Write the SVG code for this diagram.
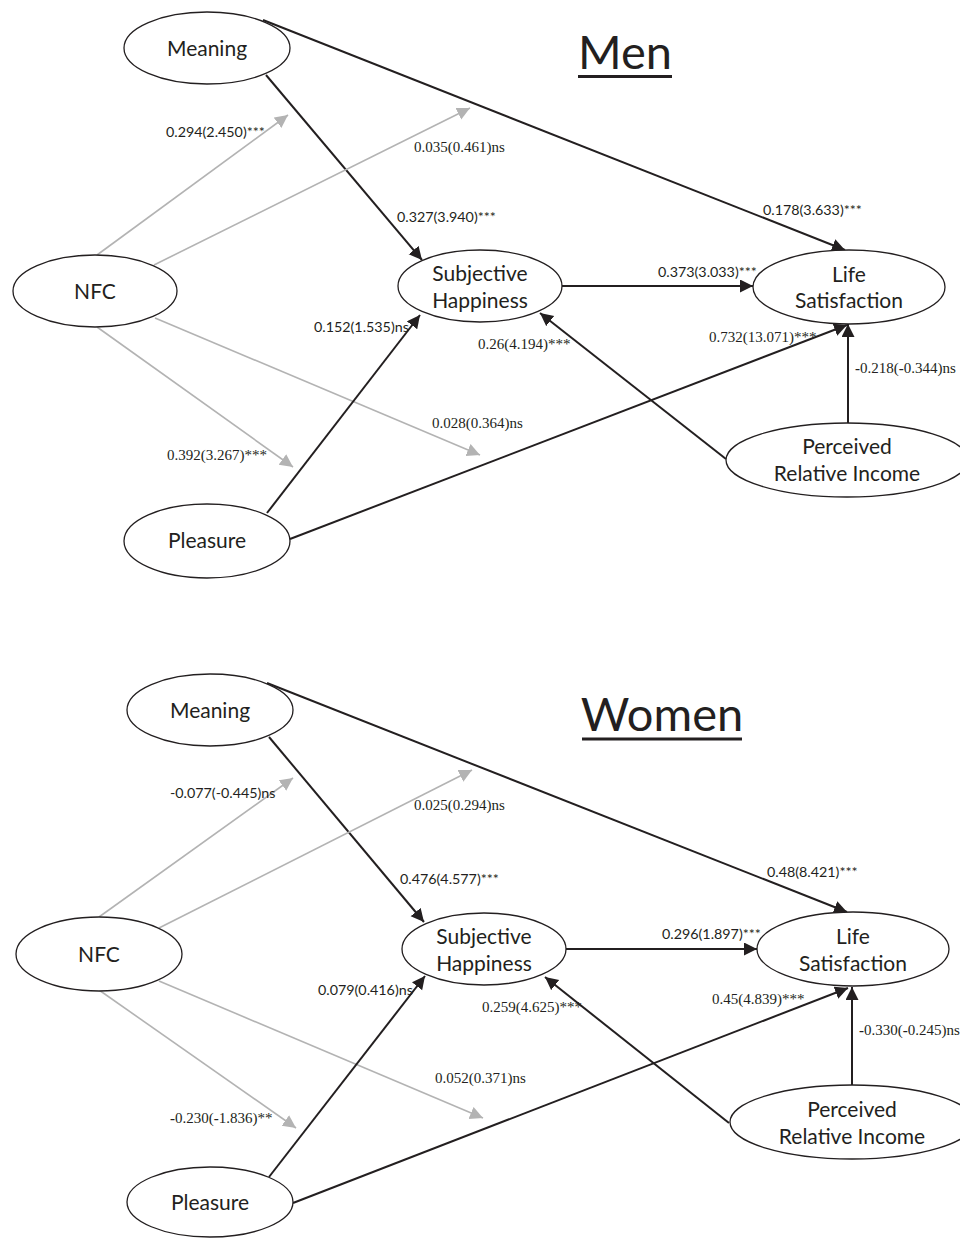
<svg xmlns="http://www.w3.org/2000/svg" width="960" height="1238" viewBox="0 0 960 1238">
<style>
.node ellipse{fill:#fff;stroke:#231f20;stroke-width:1.3}
.nl{font-family:Lato,"Liberation Sans",sans-serif;font-size:21px;fill:#231f20;text-anchor:middle}
.title{font-family:Lato,"Liberation Sans",sans-serif;font-size:47px;fill:#231f20;text-anchor:middle}
.ul{stroke:#231f20;stroke-width:3}
.blk{stroke:#231f20;stroke-width:2;fill:none;marker-end:url(#ab)}
.gry{stroke:#b3b3b3;stroke-width:1.6;fill:none;marker-end:url(#ag)}
.ls{font-family:Lato,"Liberation Sans",sans-serif;font-size:14.3px;fill:#231f20}
.lr{font-family:"Liberation Serif",serif;font-size:15px;fill:#231f20}
.b{font-weight:bold}
</style>
<defs>
<marker id="ab" markerUnits="userSpaceOnUse" markerWidth="14" markerHeight="14" refX="13" refY="6.5" orient="auto"><path d="M0,0 L13,6.5 L0,13 z" fill="#231f20"/></marker>
<marker id="ag" markerUnits="userSpaceOnUse" markerWidth="14" markerHeight="14" refX="13" refY="6.5" orient="auto"><path d="M0,0 L13,6.5 L0,13 z" fill="#b3b3b3"/></marker>
</defs>

<!-- MEN -->
<g id="men-title"><text class="title" x="625" y="69">Men</text><line class="ul" x1="578" y1="76.5" x2="672" y2="76.5"/></g>
<g id="men-connectors">
<line class="blk" x1="263" y1="20" x2="845" y2="250"/>
<line class="blk" x1="266" y1="75" x2="422" y2="260"/>
<line class="gry" x1="97" y1="255" x2="288" y2="115"/>
<line class="gry" x1="154" y1="265" x2="470" y2="108"/>
<line class="gry" x1="97" y1="327" x2="293" y2="467"/>
<line class="gry" x1="155" y1="318" x2="480" y2="455"/>
<line class="blk" x1="267" y1="513" x2="420" y2="315"/>
<line class="blk" x1="290" y1="539" x2="847" y2="325"/>
<line class="blk" x1="726" y1="459" x2="540" y2="313"/>
<line class="blk" x1="848" y1="423" x2="848" y2="324"/>
<line class="blk" x1="562" y1="286" x2="753" y2="286"/>
</g>
<g id="men-labels">
<text class="ls" x="166" y="137">0.294(2.450)***</text>
<text class="lr" x="414" y="152">0.035(0.461)ns</text>
<text class="ls" x="397" y="222">0.327(3.940)***</text>
<text class="ls" x="763" y="215">0.178(3.633)***</text>
<text class="ls" x="658" y="277">0.373(3.033)***</text>
<text class="ls" x="314" y="332">0.152(1.535)ns</text>
<text class="lr" x="478" y="349">0.26(4.194)***</text>
<text class="lr" x="709" y="342">0.732(13.071)***</text>
<text class="lr" x="855" y="373"><tspan class="b">-</tspan>0.218(<tspan class="b">-</tspan>0.344)ns</text>
<text class="lr" x="432" y="428">0.028(0.364)ns</text>
<text class="lr" x="167" y="460">0.392(3.267)***</text>
</g>
<g id="men-meaning" class="node"><ellipse cx="207" cy="48" rx="83" ry="36"/><text class="nl" x="207" y="56">Meaning</text></g>
<g id="men-nfc" class="node"><ellipse cx="95" cy="291" rx="82" ry="36"/><text class="nl" x="95" y="299">NFC</text></g>
<g id="men-sh" class="node"><ellipse cx="480" cy="286" rx="82" ry="36"/><text class="nl" x="480" y="281">Subjective</text><text class="nl" x="480" y="308">Happiness</text></g>
<g id="men-ls" class="node"><ellipse cx="849" cy="287" rx="96" ry="37"/><text class="nl" x="849" y="282">Life</text><text class="nl" x="849" y="308">Satisfaction</text></g>
<g id="men-pri" class="node"><ellipse cx="847" cy="460" rx="121" ry="37"/><text class="nl" x="847" y="454">Perceived</text><text class="nl" x="847" y="481">Relative Income</text></g>
<g id="men-pleasure" class="node"><ellipse cx="207" cy="541" rx="83" ry="37"/><text class="nl" x="207" y="548">Pleasure</text></g>

<!-- WOMEN -->
<g id="women-title"><text class="title" x="662" y="731">Women</text><line class="ul" x1="582" y1="739" x2="742" y2="739"/></g>
<g id="women-connectors">
<line class="blk" x1="267" y1="683" x2="847" y2="912"/>
<line class="blk" x1="269" y1="737" x2="424" y2="922"/>
<line class="gry" x1="99" y1="917" x2="293" y2="778"/>
<line class="gry" x1="159" y1="928" x2="472" y2="770"/>
<line class="gry" x1="99" y1="990" x2="296" y2="1128"/>
<line class="gry" x1="159" y1="981" x2="483" y2="1118"/>
<line class="blk" x1="269" y1="1177" x2="425" y2="976"/>
<line class="blk" x1="293" y1="1203" x2="848" y2="988"/>
<line class="blk" x1="729" y1="1123" x2="545" y2="977"/>
<line class="blk" x1="852" y1="1086" x2="852" y2="987"/>
<line class="blk" x1="566" y1="949" x2="757" y2="949"/>
</g>
<g id="women-labels">
<text class="ls" x="170" y="798">-0.077(-0.445)ns</text>
<text class="lr" x="414" y="810">0.025(0.294)ns</text>
<text class="ls" x="400" y="884">0.476(4.577)***</text>
<text class="ls" x="767" y="877">0.48(8.421)***</text>
<text class="ls" x="662" y="939">0.296(1.897)***</text>
<text class="ls" x="318" y="995">0.079(0.416)ns</text>
<text class="lr" x="482" y="1012">0.259(4.625)***</text>
<text class="lr" x="712" y="1004">0.45(4.839)***</text>
<text class="lr" x="859" y="1035"><tspan class="b">-</tspan>0.330(<tspan class="b">-</tspan>0.245)ns</text>
<text class="lr" x="435" y="1083">0.052(0.371)ns</text>
<text class="lr" x="170" y="1123"><tspan class="b">-</tspan>0.230(<tspan class="b">-</tspan>1.836)**</text>
</g>
<g id="women-meaning" class="node"><ellipse cx="210" cy="710" rx="83" ry="36"/><text class="nl" x="210" y="718">Meaning</text></g>
<g id="women-nfc" class="node"><ellipse cx="99" cy="954" rx="83" ry="37"/><text class="nl" x="99" y="962">NFC</text></g>
<g id="women-sh" class="node"><ellipse cx="484" cy="949" rx="82" ry="36"/><text class="nl" x="484" y="944">Subjective</text><text class="nl" x="484" y="971">Happiness</text></g>
<g id="women-ls" class="node"><ellipse cx="853" cy="949" rx="96" ry="37"/><text class="nl" x="853" y="944">Life</text><text class="nl" x="853" y="971">Satisfaction</text></g>
<g id="women-pri" class="node"><ellipse cx="852" cy="1122" rx="122" ry="37"/><text class="nl" x="852" y="1117">Perceived</text><text class="nl" x="852" y="1144">Relative Income</text></g>
<g id="women-pleasure" class="node"><ellipse cx="210" cy="1202" rx="83" ry="35"/><text class="nl" x="210" y="1210">Pleasure</text></g>
</svg>
